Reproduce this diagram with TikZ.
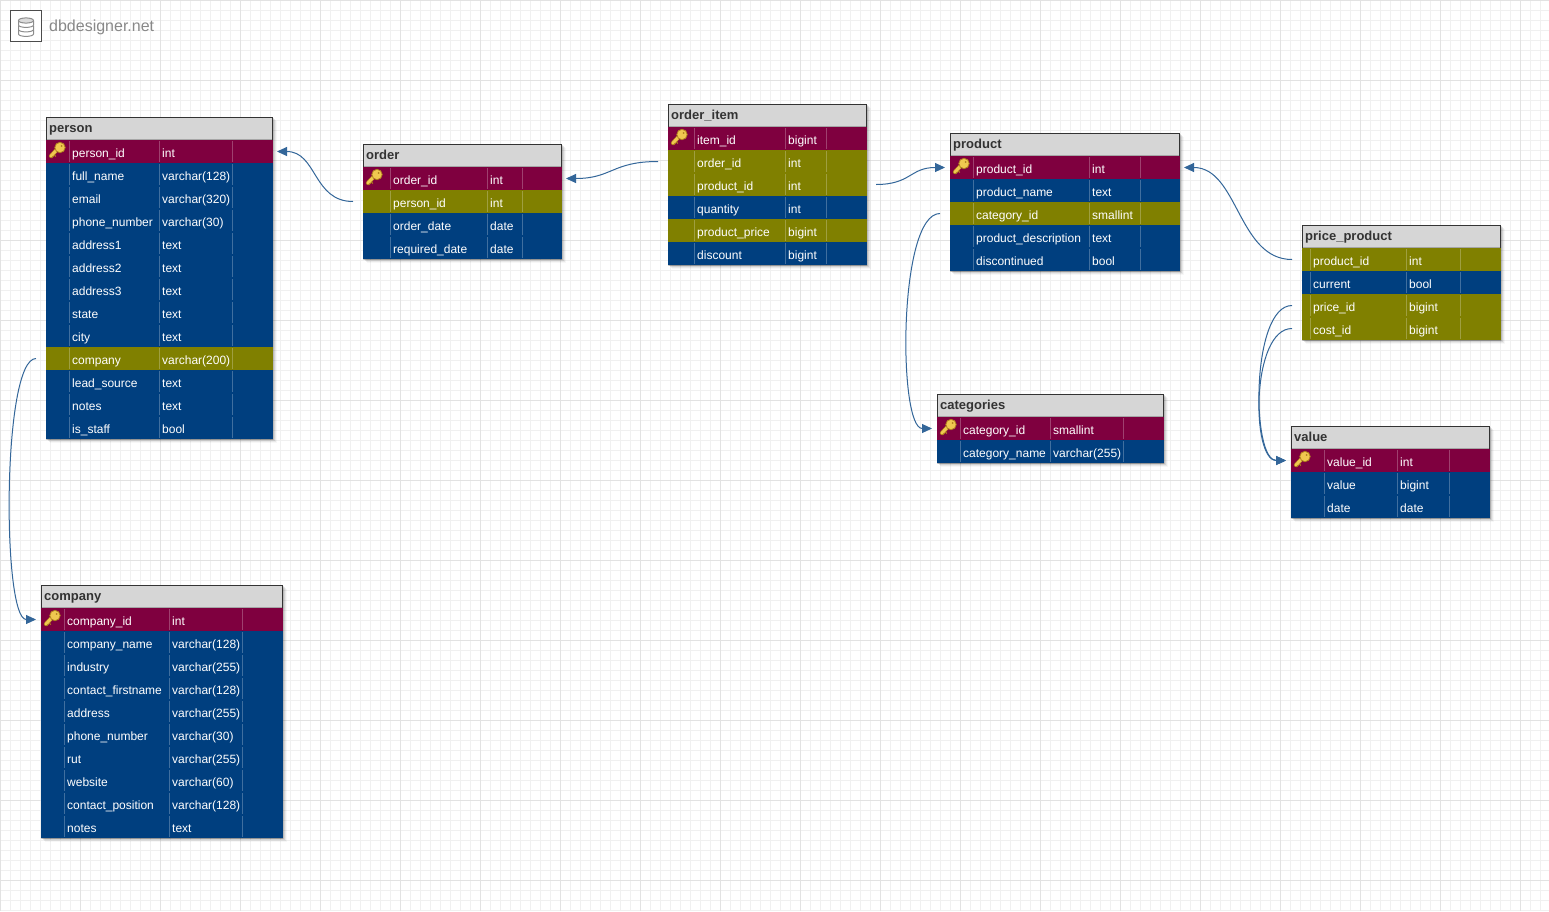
\documentclass[tikz,border=0pt]{standalone}
\usepackage{fontspec}
\setmainfont{Liberation Sans}
\usepackage{tikz}
\usetikzlibrary{arrows.meta,positioning}

\definecolor{pkrow}{RGB}{127,0,63}
\definecolor{fkrow}{RGB}{128,128,0}
\definecolor{stdrow}{RGB}{0,63,127}
\definecolor{linkblue}{RGB}{51,102,153}
\definecolor{titlegray}{RGB}{214,214,214}
\definecolor{titleink}{RGB}{51,51,51}
\definecolor{gridminor}{RGB}{240,240,240}
\definecolor{gridmajor}{RGB}{226,226,226}
\definecolor{logogray}{RGB}{136,136,136}
\definecolor{keygold}{RGB}{240,200,80}
\definecolor{keyedge}{RGB}{176,128,30}

\tikzset{
  titlebox/.style={draw=titleink,line width=1pt,fill=titlegray,anchor=north west,inner sep=0pt,outer sep=0pt,minimum height=22pt},
  rowbox/.style={anchor=north west,inner sep=0pt,outer sep=0pt,minimum height=23pt},
  titletext/.style={anchor=base west,inner sep=0pt,text=titleink,font=\fontsize{13}{15}\selectfont\bfseries},
  celltext/.style={anchor=base west,inner sep=0pt,text=white,font=\fontsize{12}{14}\selectfont},
  fklink/.style={draw=linkblue,line width=1pt,-{Triangle[length=10pt,width=9pt]}},
  dbkey/.pic={
    \draw[keyedge,line width=4.2pt,line cap=round] (5,4.5) -- (12,-3);
    \draw[keygold,line width=3pt,line cap=round] (5,4.5) -- (12,-3);
    \draw[keyedge,line width=1pt] (5.6,6.4) -- (7.6,4.4) (8.4,3.6) -- (9.8,5);
    \fill[keygold,draw=keyedge,line width=.8pt] (14,-4) circle (5.2);
    \fill[keyedge] (15.6,-5.6) circle (1);
  }
}

% name, title, x, y, width, key column, name column, type column, rows
\newcommand{\dbtable}[9]{
  \foreach \sh/\op in {5/.03,4/.06,3/.09,2/.12}
    \fill[black,opacity=\op] ({#3+\sh-1},{#4+\sh-1}) rectangle ({#3+#5+\sh-1},{#4+23+\dbrows*23+\sh-1});
  \node[titlebox,minimum width={(#5-1)*1pt}] (#1) at ({#3+.5},{#4+.5}) {};
  \draw[black!35,line width=1pt] (#3+1,#4+22.5) -- ++(#5-2,0);
  \node[titletext] (#1-title) at ({#3+3},{#4+15.5}) {#2};
  \foreach \kind/\field/\ftype [count=\i] in {#9} {
    \pgfmathsetmacro\rowtop{#4+23*\i}
    \node[rowbox,fill=\kind,minimum width=#5pt] (#1-\i) at (#3,\rowtop) {};
    \draw[black,opacity=.2] (#3,\rowtop+23) -- ++(#5,0);
    \foreach \colx in {#6,#7,#8}
      \draw[white,opacity=.25,line width=1pt] ({#3+\colx},\rowtop+1) -- ++(0,21);
    \node[celltext] (#1-\i-field) at ({#3+#6+3},\rowtop+17.3) {\field};
    \node[celltext] (#1-\i-type) at ({#3+#7+3},\rowtop+17.3) {\ftype};
  }
}

\begin{document}
\begin{tikzpicture}[x=1pt,y=-1pt]
\useasboundingbox (0,0) rectangle (1549,911);
\fill[white] (0,0) rectangle (1549,911);
% Background grid
\foreach \gx in {0,10,...,1540} \draw[gridminor,line width=1pt] (\gx+.5,0) -- (\gx+.5,911);
\foreach \gy in {0,10,...,910} \draw[gridminor,line width=1pt] (0,\gy+.5) -- (1549,\gy+.5);
\foreach \gx in {0,80,...,1520} \draw[gridmajor,line width=1pt] (\gx+.5,0) -- (\gx+.5,911);
\foreach \gy in {0,80,...,880} \draw[gridmajor,line width=1pt] (0,\gy+.5) -- (1549,\gy+.5);
% Logo
\node[draw=black!70,line width=1pt,fill=white,minimum size=31pt,inner sep=0pt] (logo) at (26,26) {};
\node[right=7pt of logo,yshift=-1.5pt,inner sep=0pt,text=logogray,font=\fontsize{16}{18}\selectfont] (logotext) {dbdesigner.net};
\foreach \cy in {34,29.5,25}
  \draw[black!45,fill=white,line width=1pt] (18.5,\cy-4) -- (18.5,\cy) arc[start angle=180,end angle=0,x radius=7.5,y radius=2.4] -- (33.5,\cy-4);
\draw[black!45,fill=black!14,line width=1pt] (26,20.5) ellipse (7.5 and 2.6);
% Tables
\def\dbrows{13}
\dbtable{person}{person}{46}{117}{227}{23}{113}{186}{
  pkrow/person\_id/int, stdrow/full\_name/varchar(128), stdrow/email/varchar(320),
  stdrow/phone\_number/varchar(30), stdrow/address1/text, stdrow/address2/text,
  stdrow/address3/text, stdrow/state/text, stdrow/city/text, fkrow/company/varchar(200),
  stdrow/lead\_source/text, stdrow/notes/text, stdrow/is\_staff/bool}
\def\dbrows{4}
\dbtable{order}{order}{363}{144}{199}{27}{124}{159}{
  pkrow/order\_id/int, fkrow/person\_id/int, stdrow/order\_date/date, stdrow/required\_date/date}
\def\dbrows{6}
\dbtable{orderitem}{order\_item}{668}{104}{199}{26}{117}{158}{
  pkrow/item\_id/bigint, fkrow/order\_id/int, fkrow/product\_id/int, stdrow/quantity/int,
  fkrow/product\_price/bigint, stdrow/discount/bigint}
\def\dbrows{5}
\dbtable{product}{product}{950}{133}{230}{23}{139}{190}{
  pkrow/product\_id/int, stdrow/product\_name/text, fkrow/category\_id/smallint,
  stdrow/product\_description/text, stdrow/discontinued/bool}
\def\dbrows{4}
\dbtable{priceproduct}{price\_product}{1302}{225}{199}{8}{104}{158}{
  fkrow/product\_id/int, stdrow/current/bool, fkrow/price\_id/bigint, fkrow/cost\_id/bigint}
\def\dbrows{2}
\dbtable{categories}{categories}{937}{394}{227}{23}{113}{186}{
  pkrow/category\_id/smallint, stdrow/category\_name/varchar(255)}
\def\dbrows{3}
\dbtable{value}{value}{1291}{426}{199}{33}{106}{158}{
  pkrow/value\_id/int, stdrow/value/bigint, stdrow/date/date}
\def\dbrows{10}
\dbtable{company}{company}{41}{585}{242}{23}{128}{201}{
  pkrow/company\_id/int, stdrow/company\_name/varchar(128), stdrow/industry/varchar(255),
  stdrow/contact\_firstname/varchar(128), stdrow/address/varchar(255),
  stdrow/phone\_number/varchar(30), stdrow/rut/varchar(255), stdrow/website/varchar(60),
  stdrow/contact\_position/varchar(128), stdrow/notes/text}
% Keys
\foreach \t in {person,order,orderitem,product,categories,value,company}
  \pic at (\t-1.west) {dbkey};
% Foreign keys
\draw[fklink] ([xshift=-10pt]order-2.west) .. controls +(-40,0) and +(40,0) .. ([xshift=4pt]person-1.east);
\draw[fklink] ([xshift=-10pt]orderitem-2.west) .. controls +(-46,0) and +(46,0) .. ([xshift=4pt]order-1.east);
\draw[fklink] ([xshift=9pt]orderitem-3.east) .. controls +(35,0) and +(-35,0) .. ([xshift=-5pt]product-1.west);
\draw[fklink] ([xshift=-10pt]product-3.west) .. controls +(-42,0) and +(-34,0) .. ([xshift=-5pt]categories-1.west);
\draw[fklink] ([xshift=-10pt]priceproduct-1.west) .. controls +(-54,0) and +(54,0) .. ([xshift=4pt]product-1.east);
\draw[fklink] ([xshift=-10pt]priceproduct-3.west) .. controls +(-41,0) and +(-35,0) .. ([xshift=-5pt]value-1.west);
\draw[fklink] ([xshift=-10pt]priceproduct-4.west) .. controls +(-41,0) and +(-35,0) .. ([xshift=-5pt]value-1.west);
\draw[fklink] ([xshift=-10pt]person-10.west) .. controls +(-34,0) and +(-34,0) .. ([xshift=-5pt]company-1.west);
\end{tikzpicture}
\end{document}
